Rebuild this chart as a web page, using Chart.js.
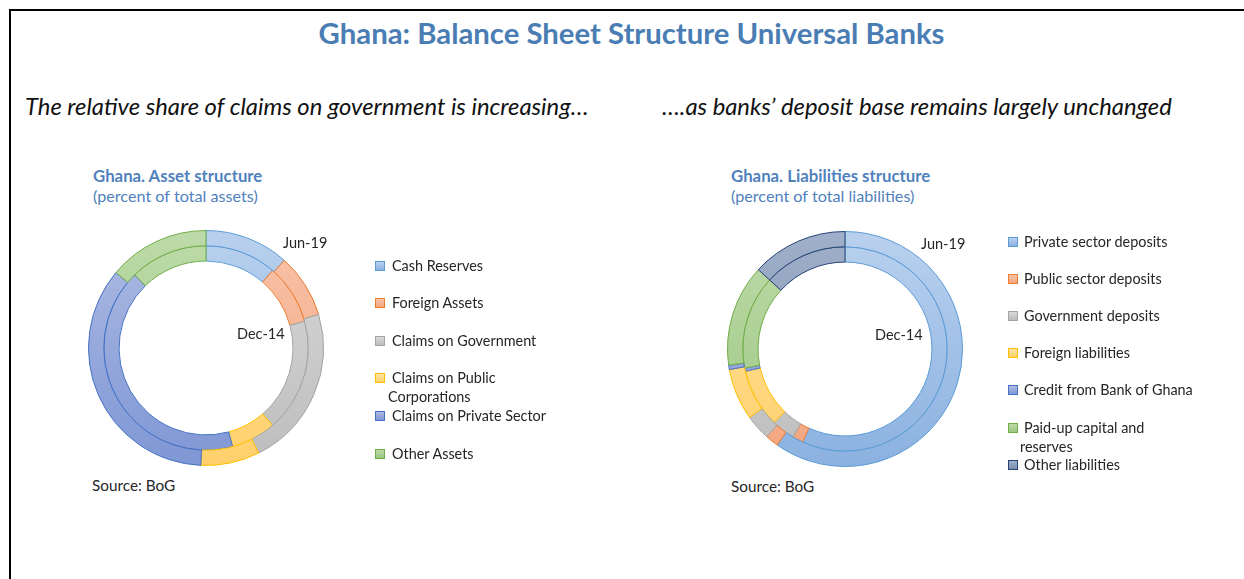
<!DOCTYPE html>
<html>
<head>
<meta charset="utf-8">
<script src="https://cdn.jsdelivr.net/npm/chart.js@4.4.1/dist/chart.umd.min.js"></script>
<style>
  body { margin: 0; width: 1244px; height: 579px; overflow: hidden; position: relative; background: #fff;
         font-family: Lato, "Open Sans", sans-serif; color: #262626; }
  .frame { position: absolute; left: 9px; top: 9px; width: 1250px; height: 600px;
           border-top: 2px solid #000; border-left: 2px solid #000; }
  .t { position: absolute; white-space: nowrap; line-height: 20px; }
  .title { font-size: 29.3px; font-weight: 700; color: #4a7db3; line-height: 30px; transform: translateX(-50%); }
  .lead { font-size: 23.8px; font-style: italic; color: #111; line-height: 24px; }
  .ctitle { font-size: 16.8px; font-weight: 700; color: #4f81bd; }
  .csub { font-size: 16.2px; color: #4f81bd; }
  .small { font-size: 14.5px; }
  .src { font-size: 15.3px; }
  .box { position: absolute; }
  .leg { position: absolute; font-size: 14.4px; line-height: 19px; }
  .leg i { position: absolute; width: 8px; height: 8px; border: 1px solid; }
  .leg span { position: absolute; white-space: nowrap; }
</style>
</head>
<body>
<div class="frame"></div>

<div class="t title" style="left:631.5px; top:18px;">Ghana: Balance Sheet Structure Universal Banks</div>
<div class="t lead" style="left:25px; top:94px;">The relative share of claims on government is increasing…</div>
<div class="t lead" style="left:662px; top:94px;">….as banks’ deposit base remains largely unchanged</div>

<div class="t ctitle" style="left:93px; top:166px;">Ghana. Asset structure</div>
<div class="t csub" style="left:93px; top:186px;">(percent of total assets)</div>
<div class="t ctitle" style="left:731px; top:166px;">Ghana. Liabilities structure</div>
<div class="t csub" style="left:731px; top:186px;">(percent of total liabilities)</div>

<div class="box" style="left:88px; top:230px; width:236px; height:236px;"><canvas id="assetChart"></canvas></div>
<div class="box" style="left:727px; top:231px; width:236px; height:236px;"><canvas id="liabChart"></canvas></div>

<div class="t small" id="aOuter" style="left:283px; top:233px;"></div>
<div class="t small" id="aInner" style="left:237px; top:324px;"></div>
<div class="t small" id="lOuter" style="left:921px; top:234px;"></div>
<div class="t small" id="lInner" style="left:875px; top:325px;"></div>

<div class="t src" style="left:92px; top:475px;">Source: BoG</div>
<div class="t src" style="left:731px; top:476px;">Source: BoG</div>

<div id="assetLegend"></div>
<div id="liabLegend"></div>

<script>
// rings: outer = Jun-19, inner = Dec-14 (percent of total)
const ringLabels = ['Jun-19', 'Dec-14'];

const assetCategories = ['Cash Reserves', 'Foreign Assets', 'Claims on Government',
  ['Claims on Public', 'Corporations'], 'Claims on Private Sector', 'Other Assets'];
const assetJun19 = [11.6, 8.8, 22.2, 8.1, 35.4, 13.9];
const assetDec14 = [11.3, 9.5, 17.9, 7.1, 41.9, 12.3];

const liabCategories = ['Private sector deposits', 'Public sector deposits', 'Government deposits',
  'Foreign liabilities', 'Credit from Bank of Ghana', ['Paid-up capital and', 'reserves'], 'Other liabilities'];
const liabJun19 = [59.8, 1.8, 3.5, 7.1, 0.6, 14.0, 13.2];
const liabDec14 = [56.8, 1.7, 3.7, 9.3, 0.5, 14.8, 13.2];

// office-style fills: light top, darker bottom, solid edge
const blue   = { light: '#b9d1ee', dark: '#8bb1e0', line: '#5b9bd5' };
const orange = { light: '#f8c4aa', dark: '#f3a47e', line: '#ed7d31' };
const grey   = { light: '#d9d9d9', dark: '#bdbdbd', line: '#a5a5a5' };
const gold   = { light: '#ffe3a2', dark: '#ffd06c', line: '#ffc000' };
const indigo = { light: '#aebbe3', dark: '#7f97d5', line: '#4472c4' };
const green  = { light: '#bddba9', dark: '#9cc681', line: '#70ad47' };
const navy   = { light: '#a0b0ca', dark: '#7a8dae', line: '#264478' };

const assetPalette = [blue, orange, grey, gold, indigo, green];
const liabPalette = [blue, orange, grey, gold, indigo, green, navy];

function gradFill(pal) {
  return (c) => {
    const p = pal[c.dataIndex];
    const { ctx, chartArea } = c.chart;
    if (!chartArea) return p.dark;
    const g = ctx.createLinearGradient(0, chartArea.top, 0, chartArea.bottom);
    g.addColorStop(0, p.light);
    g.addColorStop(1, p.dark);
    return g;
  };
}

function ringChart(id, labels, outer, inner, pal) {
  const ds = (data) => ({
    data: data,
    backgroundColor: gradFill(pal),
    borderColor: pal.map(p => p.line),
    borderWidth: 1
  });
  return new Chart(document.getElementById(id), {
    type: 'doughnut',
    data: { labels: labels, datasets: [ds(outer), ds(inner)] },
    options: {
      responsive: true,
      maintainAspectRatio: false,
      animation: false,
      cutout: '74%',
      layout: { padding: 0 },
      plugins: { legend: { display: false }, tooltip: { enabled: false } }
    }
  });
}

const assetChart = ringChart('assetChart', assetCategories, assetJun19, assetDec14, assetPalette);
const liabChart = ringChart('liabChart', liabCategories, liabJun19, liabDec14, liabPalette);

document.getElementById('aOuter').textContent = ringLabels[0];
document.getElementById('aInner').textContent = ringLabels[1];
document.getElementById('lOuter').textContent = ringLabels[0];
document.getElementById('lInner').textContent = ringLabels[1];

// legend built from chart labels and palette
function buildLegend(el, chart, pal, x, gap, firstY, step) {
  chart.data.labels.forEach((lab, i) => {
    const lines = Array.isArray(lab) ? lab : [lab];
    const p = pal[i];
    const cy = firstY + i * step;
    const item = document.createElement('div');
    item.className = 'leg';
    item.style.left = x + 'px';
    item.style.top = (cy - 9.5) + 'px';
    const sq = document.createElement('i');
    sq.style.left = '0px';
    sq.style.top = '5px';
    sq.style.borderColor = p.line;
    sq.style.background = 'linear-gradient(' + p.light + ',' + p.dark + ')';
    item.appendChild(sq);
    lines.forEach((ln, k) => {
      const s = document.createElement('span');
      s.textContent = ln;
      s.style.left = (k === 0 ? gap : gap - 4) + 'px';
      s.style.top = (k * 19) + 'px';
      item.appendChild(s);
    });
    el.appendChild(item);
  });
}

buildLegend(document.getElementById('assetLegend'), assetChart, assetPalette, 375, 17, 265, 37.6);
buildLegend(document.getElementById('liabLegend'), liabChart, liabPalette, 1008, 16, 241, 37.2);
</script>
</body>
</html>
